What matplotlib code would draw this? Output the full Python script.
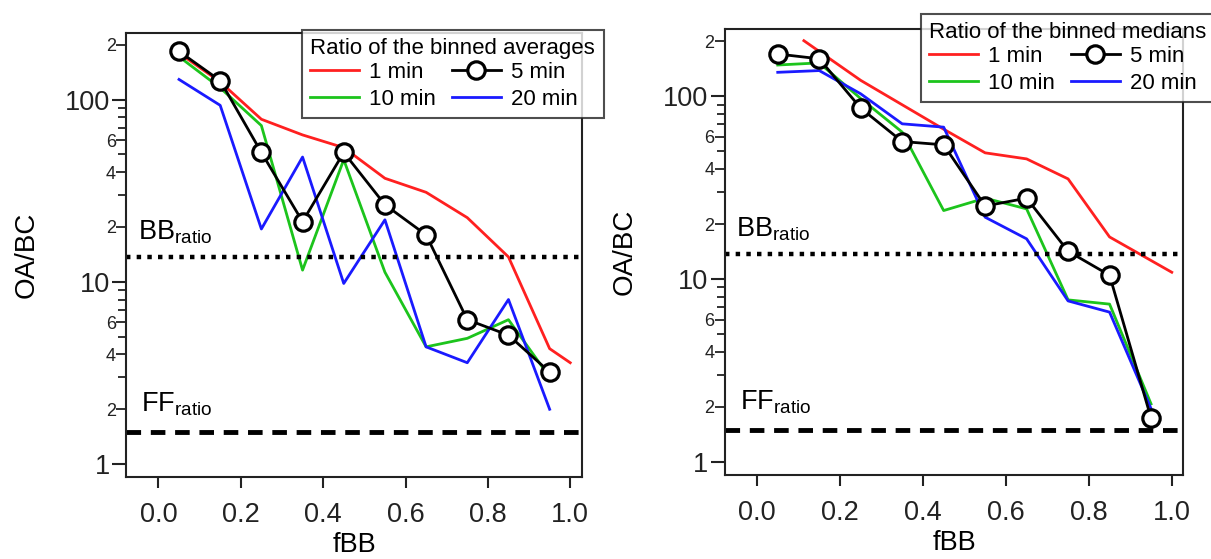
import numpy as np
import matplotlib.pyplot as plt
from matplotlib.ticker import FixedLocator, FuncFormatter

plt.rcParams['font.family'] = ['Liberation Sans', 'DejaVu Sans']
plt.rcParams['mathtext.fontset'] = 'custom'
plt.rcParams['mathtext.rm'] = 'Liberation Sans'
plt.rcParams['mathtext.it'] = 'Liberation Sans:italic'

# fBB bin centres
fbb = [0.05, 0.15, 0.25, 0.35, 0.45, 0.55, 0.65, 0.75, 0.85, 0.95]

# binned averages
avg_1min_x = [0.05, 0.15, 0.25, 0.35, 0.45, 0.55, 0.65, 0.75, 0.85, 0.95, 1.0]
avg_1min = [180, 125, 78, 64, 54.5, 37, 31, 22.5, 13.7, 4.3, 3.6]
avg_5min = [184, 127, 51.3, 21.4, 51.3, 26.5, 18.1, 6.2, 5.1, 3.2]
avg_10min = [172, 116, 72, 11.6, 46.8, 11.3, 4.4, 4.9, 6.2, 3.0]
avg_20min = [129, 93, 19.5, 48.4, 9.8, 21.9, 4.4, 3.6, 8.0, 2.0]

# binned medians
med_1min_x = [0.113, 0.25, 0.45, 0.55, 0.65, 0.75, 0.85, 1.0]
med_1min = [201, 122, 66, 49, 45.4, 35.3, 17, 10.9]
med_5min = [170, 160, 86, 56.5, 54.2, 25.1, 27.7, 14.2, 10.5, 1.74]
med_10min = [148, 152, 97, 63.6, 23.7, 27.7, 24.2, 7.7, 7.3, 2.08]
med_20min = [135, 138, 103, 70.6, 67.7, 21.8, 16.6, 7.6, 6.6, 1.96]

bb_ratio = 13.7
ff_ratio = 1.5

RED = '#FF2020'
GREEN = '#1CC41C'
BLUE = '#1A1AFF'
INK = '#222222'


def leading_digit(v):
    return int(round(v / 10 ** np.floor(np.log10(v) + 1e-9)))


def style_axis(ax):
    ax.set_yscale('log')
    ax.set_ylim(0.85, 232)
    ax.set_xlim(-0.078, 1.028)
    for sp in ax.spines.values():
        sp.set_linewidth(1.5)
        sp.set_color(INK)

    ax.set_xticks([0.0, 0.2, 0.4, 0.6, 0.8, 1.0])
    ax.set_xticklabels(['0.0', '0.2', '0.4', '0.6', '0.8', '1.0'])
    ax.tick_params(axis='x', direction='out', length=8, width=1.5,
                   labelsize=19.5, pad=10, colors=INK)

    ax.yaxis.set_major_locator(FixedLocator([1, 10, 100]))
    ax.yaxis.set_major_formatter(FuncFormatter(lambda v, p: '%d' % round(v)))
    minor = [2, 3, 4, 5, 6, 7, 8, 9, 20, 30, 40, 50, 60, 70, 80, 90, 200]
    ax.yaxis.set_minor_locator(FixedLocator(minor))
    ax.yaxis.set_minor_formatter(FuncFormatter(
        lambda v, p: str(leading_digit(v)) if leading_digit(v) in (2, 4, 6) else ''))
    ax.tick_params(axis='y', which='major', direction='out', length=10,
                   width=1.5, labelsize=19.5, pad=2, colors=INK)
    ax.tick_params(axis='y', which='minor', direction='out', length=5.5,
                   width=1.3, labelsize=13, pad=2, colors=INK)

    # longer ticks for the labelled minor values
    ticks = ax.yaxis.get_minor_ticks(len(minor))
    for t, v in zip(ticks, minor):
        t.tick1line.set_markersize(7.5 if leading_digit(v) in (2, 4, 6) else 5.5)

    ax.set_xlabel('fBB', fontsize=19.5, labelpad=3)
    ax.set_ylabel('OA/BC', fontsize=20, labelpad=18)


def draw_panel(ax, x1, y1, y5, y10, y20):
    l1, = ax.plot(x1, y1, color=RED, lw=2, label='1 min')
    l5, = ax.plot(fbb, y5, color='black', lw=2, marker='o', ms=12.5,
                  mfc='white', mec='black', mew=2.3, label='5 min', zorder=5)
    l10, = ax.plot(fbb, y10, color=GREEN, lw=2, label='10 min')
    l20, = ax.plot(fbb, y20, color=BLUE, lw=2, label='20 min')

    ax.axhline(bb_ratio, color='black', lw=3.2, ls=(0, (1, 1.4)), zorder=2)
    ax.axhline(ff_ratio, color='black', lw=3.5, ls=(0, (3, 2)), zorder=2)
    ax.text(-0.05, 17, r'BB$_{\mathrm{ratio}}$', fontsize=19.5, ha='left',
            va='baseline')
    ax.text(-0.042, 1.95, r'FF$_{\mathrm{ratio}}$', fontsize=19.5, ha='left',
            va='baseline')
    return [l1, l10, l5, l20]


fig = plt.figure(figsize=(12.11, 5.59), dpi=100)
ax1 = fig.add_axes([0.1043, 0.1467, 0.3761, 0.7943])
ax2 = fig.add_axes([0.5984, 0.1503, 0.3788, 0.7973])

for ax in (ax1, ax2):
    style_axis(ax)

h1 = draw_panel(ax1, avg_1min_x, avg_1min, avg_5min, avg_10min, avg_20min)
h2 = draw_panel(ax2, med_1min_x, med_1min, med_5min, med_10min, med_20min)

legend_kw = dict(loc='upper left', ncol=2, fontsize=16, title_fontsize=16,
                 frameon=True, fancybox=False, borderaxespad=0,
                 handlelength=2.2, handletextpad=0.45, columnspacing=0.7,
                 labelspacing=0.25, borderpad=0.38, alignment='left')
leg1 = ax1.legend(handles=h1, title='Ratio of the binned averages',
                  bbox_to_anchor=(302 / 1211, 1 - 30 / 559),
                  bbox_transform=fig.transFigure, **legend_kw)
leg2 = ax2.legend(handles=h2, title='Ratio of the binned medians',
                  bbox_to_anchor=(921 / 1211, 1 - 14 / 559),
                  bbox_transform=fig.transFigure, **legend_kw)
for leg in (leg1, leg2):
    leg.get_frame().set_edgecolor(INK)
    leg.get_frame().set_linewidth(1.5)
    leg.set_zorder(10)
    leg._legend_box.sep = 2

fig.savefig('out.png', dpi=100)
